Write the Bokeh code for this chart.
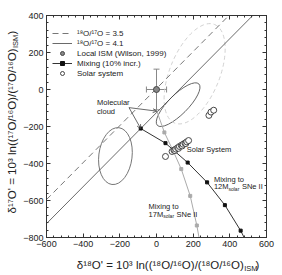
import numpy as np
from bokeh.plotting import figure
from bokeh.layouts import row, column
from bokeh.models import (Range1d, LinearAxis, SingleIntervalTicker, Legend, LegendItem,
                          Label, Arrow, OpenHead, Whisker, TeeHead, ColumnDataSource,
                          CustomJSTickFormatter)
from bokeh.embed import file_html
from bokeh.resources import INLINE

FONT = "Liberation Sans"

# ---------------- data ----------------
line_x = [-600, 600]
ratio_labels = ["¹⁸O/¹⁷O = 3.5", "¹⁸O/¹⁷O = 4.1"]
ratio_offsets = [5, -125]          # δ17O' - δ18O' along constant-ratio lines

ism_x = [0]
ism_y = [0]
ism_xerr = [55]
ism_yerr = [110]

mix12_x = [-86, 49, 170, 276, 373, 459, 540]
mix12_y = [-211, -290, -395, -502, -625, -763, -920]
mix17_x = [2, 43, 90, 135, 184, 220, 250]
mix17_y = [-117, -232, -330, -430, -575, -735, -900]

solar_x = [49, 85, 95, 100, 105, 115, 120, 125, 135, 140, 145, 155, 160, 165, 175, 286, 297, 312]
solar_y = [-362, -335, -328, -330, -322, -315, -318, -308, -302, -305, -296, -290, -292, -283, -276, -140, -122, -112]

cloud_x = [-224, 118, 208]
cloud_y = [-360, -82, 85]
cloud_w = [312, 320, 580]
cloud_h = [180, 106, 270]
cloud_angle = [83, 45, 68]

x_start, x_end = -600, 600
y_start, y_end = -800, 400

x_title = ["δ¹⁸O' = 10³ ln((¹⁸O/¹⁶O)/(¹⁸O/¹⁶O)", "ISM", ")"]
y_title = ["δ¹⁷O' = 10³ ln((¹⁷O/¹⁶O)/(¹⁷O/¹⁶O)", "ISM", ")"]

# ---------------- main figure ----------------
p = figure(width=262, height=252, output_backend="svg", toolbar_location=None,
           x_range=Range1d(x_start, x_end), y_range=Range1d(y_start, y_end),
           min_border_left=24, min_border_right=16, min_border_top=15, min_border_bottom=15)
p.xgrid.visible = False
p.ygrid.visible = False
p.outline_line_color = "#333333"
p.background_fill_color = "white"
p.border_fill_color = "white"


def style_axis(ax, labels=True):
    ax.ticker = SingleIntervalTicker(interval=200, num_minor_ticks=5)
    ax.axis_line_color = "#333333"
    ax.major_tick_line_color = "#333333"
    ax.minor_tick_line_color = "#333333"
    ax.major_tick_in = 4
    ax.major_tick_out = 0
    ax.minor_tick_in = 2
    ax.minor_tick_out = 0
    ax.major_label_text_font = FONT
    ax.major_label_text_color = "#222222"
    if labels:
        ax.major_label_text_font_size = "9px"
        ax.major_label_standoff = 3
    else:
        ax.major_label_text_font_size = "1px"
        ax.major_label_standoff = 0
        ax.formatter = CustomJSTickFormatter(code="return ''")


style_axis(p.xaxis[0])
style_axis(p.yaxis[0])
top_ax = LinearAxis()
right_ax = LinearAxis()
style_axis(top_ax, False)
style_axis(right_ax, False)
p.add_layout(top_ax, "above")
p.add_layout(right_ax, "right")

# ellipses
p.ellipse(x=cloud_x[:1], y=cloud_y[:1], width=cloud_w[:1], height=cloud_h[:1],
          angle=cloud_angle[:1], angle_units="deg", fill_color=None, line_color="#666666", line_width=0.9)
p.ellipse(x=cloud_x[1:2], y=cloud_y[1:2], width=cloud_w[1:2], height=cloud_h[1:2],
          angle=cloud_angle[1:2], angle_units="deg", fill_color=None, line_color="#555555", line_width=0.9)
p.ellipse(x=cloud_x[2:], y=cloud_y[2:], width=cloud_w[2:], height=cloud_h[2:],
          angle=cloud_angle[2:], angle_units="deg", fill_color=None, line_color="#cccccc",
          line_width=0.9, line_dash="4 3")

# constant ratio lines
r35 = p.line(line_x, [x + ratio_offsets[0] for x in line_x], line_color="#777777",
             line_dash="6 4", line_width=1)
r41 = p.line(line_x, [x + ratio_offsets[1] for x in line_x], line_color="#444444", line_width=0.8)

# mixing lines
p.line(mix17_x, mix17_y, line_color="#aaaaaa", line_width=1)
p.scatter(mix17_x[1:], mix17_y[1:], marker="square", size=3, color="#aaaaaa")
m12l = p.line(mix12_x, mix12_y, line_color="#333333", line_width=1)
m12s = p.scatter(mix12_x, mix12_y, marker="square", size=3, color="#111111")

# ISM point
src = ColumnDataSource(dict(x=ism_x, y=ism_y,
                            xl=[a - e for a, e in zip(ism_x, ism_xerr)],
                            xu=[a + e for a, e in zip(ism_x, ism_xerr)],
                            yl=[a - e for a, e in zip(ism_y, ism_yerr)],
                            yu=[a + e for a, e in zip(ism_y, ism_yerr)]))
p.add_layout(Whisker(source=src, base="y", lower="xl", upper="xu", dimension="width",
                     line_color="#888888", line_width=1,
                     lower_head=TeeHead(size=6, line_color="#888888"),
                     upper_head=TeeHead(size=6, line_color="#888888")))
p.add_layout(Whisker(source=src, base="x", lower="yl", upper="yu", dimension="height",
                     line_color="#888888", line_width=1,
                     lower_head=TeeHead(size=6, line_color="#888888"),
                     upper_head=TeeHead(size=6, line_color="#888888")))
ism_r = p.scatter("x", "y", source=src, size=6, fill_color="#888888", line_color="#444444")

# solar system
sol_r = p.scatter(solar_x, solar_y, size=6, fill_color="white", line_color="#333333", line_width=0.9)

# arrows from the "Molecular cloud" label
arrow_start = (-150, -98)
for ex, ey in [(mix17_x[0], mix17_y[0]), (mix12_x[0], mix12_y[0])]:
    p.add_layout(Arrow(end=OpenHead(size=4, line_width=0.8, line_color="#444444"),
                       x_start=arrow_start[0], y_start=arrow_start[1], x_end=ex, y_end=ey,
                       line_color="#444444", line_width=0.8))


def txt(fig, x, y, text, size=7.5, xo=0, yo=0, angle=0, align="left", color="#222222"):
    fig.add_layout(Label(x=x, y=y, text=text, x_offset=xo, y_offset=yo, angle=angle,
                         text_font=FONT, text_font_size=f"{size}px", text_color=color,
                         text_align=align, text_baseline="middle"))


txt(p, -324, -71, "Molecular")
txt(p, -324, -118, "cloud")
txt(p, 165, -323, "Solar System")
txt(p, 313, -487, "Mixing to")
txt(p, 313, -527, "12M")
txt(p, 313, -527, "solar", size=5, xo=14.6, yo=-2)
txt(p, 313, -527, "SNe II", xo=28)
txt(p, -43, -631, "Mixing to")
txt(p, -43, -674, "17M")
txt(p, -43, -674, "solar", size=5, xo=14.6, yo=-2)
txt(p, -43, -674, "SNe II", xo=28)

legend = Legend(items=[
    LegendItem(label=ratio_labels[0], renderers=[r35]),
    LegendItem(label=ratio_labels[1], renderers=[r41]),
    LegendItem(label="Local ISM (Wilson, 1999)", renderers=[ism_r]),
    LegendItem(label="Mixing (10% incr.)", renderers=[m12l, m12s]),
    LegendItem(label="Solar system", renderers=[sol_r]),
], location=(6, 159), border_line_color=None, background_fill_alpha=0,
    label_text_font=FONT, label_text_font_size="8px", label_text_color="#222222",
    glyph_width=20, glyph_height=10, label_height=10, spacing=0, padding=0, margin=0,
    label_standoff=5)
p.add_layout(legend)


# ---------------- title strips ----------------
def strip(w, h):
    f = figure(width=w, height=h, output_backend="svg", toolbar_location=None,
               x_range=Range1d(0, w), y_range=Range1d(0, h),
               x_axis_type=None, y_axis_type=None, min_border=0)
    f.xgrid.visible = False
    f.ygrid.visible = False
    f.outline_line_color = None
    f.border_fill_color = "white"
    f.background_fill_color = "white"
    return f


left = strip(20, 275)
bottom = strip(262, 23)

TS = 11.5
# y title (rotated, reads bottom to top)
txt(left, 11, 227, y_title[0], size=TS, align="right", angle=np.pi / 2)
txt(left, 14.5, 227.5, y_title[1], size=7.5, angle=np.pi / 2)
txt(left, 11, 241, y_title[2], size=TS, angle=np.pi / 2)
# x title
txt(bottom, 235, 11, x_title[0], size=TS, align="right")
txt(bottom, 235.5, 7.5, x_title[1], size=7.5)
txt(bottom, 249, 11, x_title[2], size=TS)

layout = row(left, column(p, bottom))
open("out.html", "w").write(file_html(layout, INLINE))
